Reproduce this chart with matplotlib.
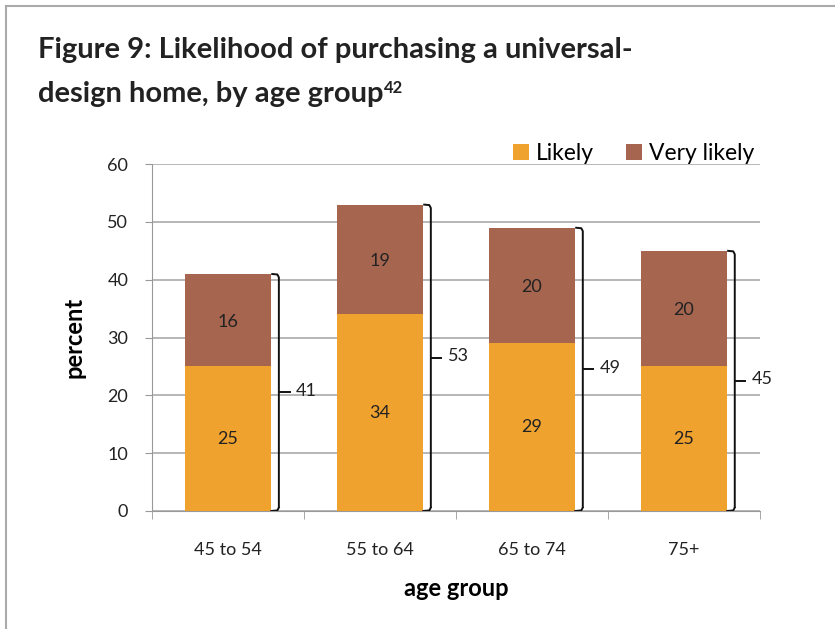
import numpy as np
import matplotlib.pyplot as plt
from matplotlib.lines import Line2D

plt.rcParams['font.family'] = ['Lato', 'DejaVu Sans']

groups = ['45 to 54', '55 to 64', '65 to 74', '75+']
likely = [25, 34, 29, 25]
very_likely = [16, 19, 20, 20]
totals = [41, 53, 49, 45]

c_likely = '#F0A22E'
c_very = '#A5654F'

fig = plt.figure(figsize=(8.35, 6.29), dpi=100)
ax = fig.add_axes([0.182, 0.1876, 0.728, 0.5516])

x = np.arange(len(groups))
w = 0.57
ax.bar(x, likely, w, color=c_likely, label='Likely', zorder=3)
ax.bar(x, very_likely, w, bottom=likely, color=c_very, label='Very likely', zorder=3)

for i in range(len(groups)):
    ax.text(x[i], likely[i] / 2, str(likely[i]), ha='center', va='center', fontsize=13, color='#222222', zorder=4)
    ax.text(x[i], likely[i] + very_likely[i] / 2 - 0.3, str(very_likely[i]), ha='center', va='center', fontsize=13, color='#222222', zorder=4)
    # bracket
    bx = x[i] + w / 2 + 0.05
    top = totals[i]
    mid = top / 2
    ax.plot([bx - 0.05, bx - 0.01, bx, bx], [top, top - 0.1, top - 0.6, 0.6], color='#111111', lw=1.4, zorder=4, solid_capstyle='butt')
    ax.plot([bx, bx - 0.01, bx - 0.05], [0.6, 0.1, 0], color='#111111', lw=1.4, zorder=4)
    ax.plot([bx, bx + 0.07], [mid, mid], color='#111111', lw=1.4, zorder=4)
    ax.text(bx + 0.11, mid + 0.3, str(totals[i]), ha='left', va='center', fontsize=13, color='#222222')

ax.set_xlim(-0.5, 3.5)
ax.set_ylim(0, 60)
ax.set_yticks(range(0, 61, 10))
ax.set_xticks(x)
ax.set_xticklabels(groups)
ax.set_xticks(np.arange(-0.5, 3.6, 1), minor=True)
ax.tick_params(axis='x', which='major', length=0, pad=22, labelsize=13, colors='#222222')
ax.tick_params(axis='x', which='minor', length=6, color='#999999')
ax.tick_params(axis='y', length=5, color='#999999', labelsize=13, colors='#222222', pad=12)
ax.yaxis.grid(True, color='#AAAAAA', lw=1.2, zorder=0)
for s in ['top', 'right']:
    ax.spines[s].set_visible(False)
ax.spines['left'].set_color('#999999')
ax.spines['bottom'].set_color('#999999')

ax.set_ylabel('percent', fontsize=17, fontweight='bold', labelpad=16)
ax.set_xlabel('age group', fontsize=17, fontweight='bold', labelpad=14)

ax.legend(loc='lower right', bbox_to_anchor=(0.99, 1.0), ncol=2, frameon=False,
          fontsize=16.5, handlelength=0.7, handleheight=0.7, handletextpad=0.3,
          columnspacing=1.4, borderaxespad=0, borderpad=0)

fig.text(38 / 835, 1 - 58 / 629, 'Figure 9: Likelihood of purchasing a universal-',
         fontsize=21, fontweight='bold', color='#222222', va='baseline')
t2 = fig.text(38 / 835, 1 - 102 / 629, 'design home, by age group',
              fontsize=21, fontweight='bold', color='#222222', va='baseline')
fig.canvas.draw()
bb = t2.get_window_extent().transformed(fig.transFigure.inverted())
fig.text(bb.x1 + 0.001, 1 - 93 / 629, '42', fontsize=12, fontweight='bold', color='#222222', va='baseline')

# outer frame (left and top only visible)
fig.add_artist(Line2D([6 / 835, 6 / 835], [0, 1 - 6 / 629], color='#AAAAAA', lw=1.5, transform=fig.transFigure))
fig.add_artist(Line2D([6 / 835, 1], [1 - 6 / 629, 1 - 6 / 629], color='#AAAAAA', lw=1.5, transform=fig.transFigure))

fig.savefig('out.png', dpi=100)
